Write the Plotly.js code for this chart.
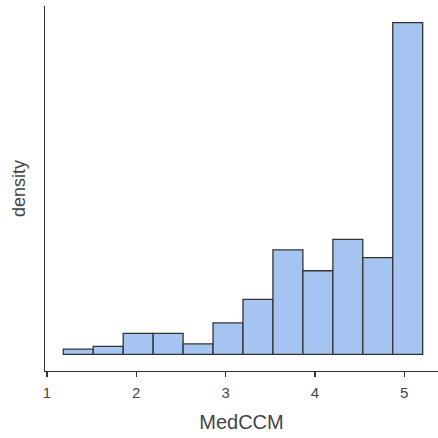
<!DOCTYPE html>
<html>
<head>
<meta charset="utf-8">
<script src="https://cdn.plot.ly/plotly-3.0.1.min.js"></script>
<style>html,body{margin:0;padding:0;background:#fff;}#chart{width:438px;height:438px;}</style>
</head>
<body>
<div id="chart"></div>
<script>
// Histogram of MedCCM (bin counts)
const binStart = 1.183;
const binWidth = 0.3353;
const counts = [2, 3, 8, 8, 4, 12, 21, 40, 32, 44, 37, 127];
const xTicks = [1, 2, 3, 4, 5];
const xLabel = "MedCCM";
const yLabel = "density";

const total = counts.reduce((a, b) => a + b, 0);
const density = counts.map(c => c / (total * binWidth));
const centers = counts.map((c, i) => binStart + binWidth * (i + 0.5));
const scale = 1 / (total * binWidth);

Plotly.newPlot('chart', [{
  type: 'bar',
  x: centers,
  y: density,
  width: counts.map(() => binWidth),
  marker: {color: '#a5c4f1', line: {color: '#333333', width: 1.3}},
  hoverinfo: 'skip'
}], {
  width: 438, height: 438,
  margin: {l: 45, r: 0, t: 6, b: 67},
  paper_bgcolor: '#ffffff', plot_bgcolor: '#ffffff',
  showlegend: false,
  bargap: 0,
  font: {family: 'Liberation Sans, Arial, sans-serif', color: '#444444'},
  xaxis: {
    range: [0.978, 5.378],
    tickvals: xTicks,
    ticktext: xTicks.map(String),
    ticks: 'outside', ticklen: 5, tickwidth: 1.3, tickcolor: '#333333',
    ticklabelstandoff: 3,
    showline: true, linecolor: '#333333', linewidth: 1.3,
    showgrid: false, zeroline: false,
    tickfont: {size: 15, color: '#444444'},
    title: {text: xLabel, font: {size: 20, color: '#444444'}, standoff: 14}
  },
  yaxis: {
    range: [-6.4 * scale, 133.4 * scale],
    showticklabels: false, ticks: '',
    showline: true, linecolor: '#333333', linewidth: 1.3,
    showgrid: false, zeroline: false,
    title: {text: yLabel, font: {size: 18, color: '#444444'}, standoff: 13}
  }
}, {displayModeBar: false, staticPlot: true});
</script>
</body>
</html>
